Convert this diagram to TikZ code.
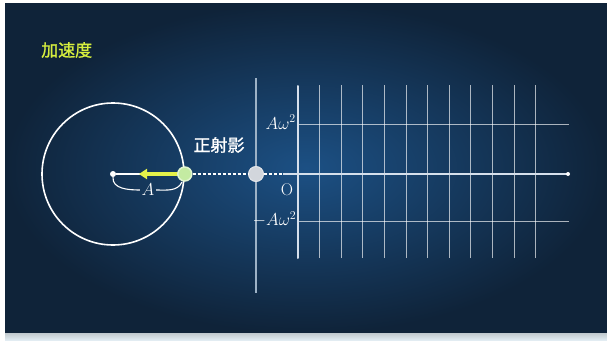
\documentclass[tikz,border=0pt]{standalone}
\usepackage{fontspec}
\newfontfamily\cjk{Noto Sans CJK JP}[FakeBold=1.2]
\usepackage{tikz}
\usetikzlibrary{
	arrows.meta,
	positioning,
	calc
}
\definecolor{panelmid}{HTML}{1C5084}
\definecolor{paneledge}{HTML}{0F2339}
\definecolor{accyellow}{HTML}{E4F24A}
\definecolor{titleyellow}{HTML}{D6EE3E}
\definecolor{projgreen}{HTML}{C4EBA2}
\definecolor{shadowgray}{HTML}{D2D6DC}
\definecolor{axiswhite}{HTML}{D6E0EC}
\definecolor{screenblue}{HTML}{9DB2C6}
\definecolor{stripcol}{HTML}{E2ECF2}

\begin{document}
\begin{tikzpicture}[x=1pt, y=-1pt,
				title text/.style={
					text=titleyellow, inner sep=0pt,
					font=\fontsize{17}{17}\selectfont\cjk
				},
				label text/.style={
					text=white, inner sep=0pt,
					font=\fontsize{17}{17}\selectfont\cjk
				},
				math text/.style={
					text=white, inner sep=1.5pt,
					font=\fontsize{17}{17}\selectfont
				},
				ring/.style={
					circle, draw=white, line width=1.6pt, inner sep=0pt
				},
				center dot/.style={
					circle, fill=white, minimum size=6pt, inner sep=0pt
				},
				proj point/.style={
					circle, fill=projgreen, draw=projgreen!50!white,
					line width=1.5pt, minimum size=14pt, inner sep=0pt
				},
				shadow point/.style={
					circle, fill=shadowgray, draw=shadowgray!60!white,
					line width=1pt, minimum size=15pt, inner sep=0pt
				},
				radius line/.style={white, line width=1.2pt},
				acc arrow/.style={
					accyellow, line width=3.5pt,
					-{Triangle[length=8pt, width=10pt]}
				},
				brace line/.style={white, line width=1.1pt},
				dash line/.style={white, line width=1.4pt, dash pattern=on 3pt off 2pt},
				screen/.style={screenblue, line width=1.6pt},
				grid line/.style={white, opacity=0.65, line width=0.8pt},
				x axis/.style={axiswhite, line width=2.6pt},
				y axis/.style={axiswhite, line width=2pt, line cap=round},
				]
				\useasboundingbox (0,0) rectangle (607,340);
				
				%background
				\fill[white] (0,0) rectangle (607,340);
				\shade[inner color=panelmid, outer color=paneledge] (5,3) rectangle (607,333);
				\shade[top color=stripcol!85!black, bottom color=stripcol] (5,333) rectangle (607,340);
				
				%title
				\node[title text, anchor=west] (title) at (41,50) {加速度};
				
				%circle
				\coordinate (cen) at (113,174);
				\node[ring, minimum size=142pt] (wheel) at (cen) {};
				\node[center dot] (cdot) at (cen) {};
				\coordinate (projc) at (wheel.east);
				\draw[radius line] (cdot) -- (projc);
				\coordinate (tip) at (139,174);
				\draw[acc arrow] (projc) -- (tip);
				\node[proj point] (proj) at (projc) {};
				
				%radius label
				\node[math text] (alabel) at (148,190) {$A$};
				\coordinate (arcend) at (182,182);
				\draw[brace line] (cdot.south) to[out=-95, in=180] (alabel.west);
				\draw[brace line] (alabel.east) to[out=0, in=-115] (arcend);
				
				%projection
				\coordinate (scrtop) at (256,78);
				\coordinate (scrbot) at (256,293);
				\draw[screen] (scrtop) -- (scrbot);
				\node[shadow point] (shadow) at (256,174) {};
				\draw[dash line] (proj) -- (shadow);
				\node[label text] (seishaei) at (219,145) {正射影};
				
				%graph
				\coordinate (ytop) at (298,86);
				\coordinate (ybot) at (298,258);
				\coordinate (xstart) at (283,174);
				\coordinate (xend) at (568,174);
				\foreach \k in {1,...,11}
				\draw[grid line] ($(ybot)+(21.6*\k,0)$) -- ($(ytop)+(21.6*\k,-1)$);
				\coordinate (hil) at (298,124.5);
				\coordinate (hir) at (569,124.5);
				\coordinate (lol) at (298,221.5);
				\coordinate (lor) at (569,221.5);
				\draw[grid line] (hil) -- (hir);
				\draw[grid line] (lol) -- (lor);
				\draw[dash line] (shadow) -- (xstart);
				\draw[x axis] (xstart) -- (xend);
				\fill[white] (xend) circle (2);
				\draw[y axis] (ybot) -- (ytop);
				
				%axis labels
				\node[math text, anchor=east] (amax) at (297.5,122) {$A\omega^2$};
				\node[math text] (olabel) at (287,190) {O};
				\node[math text, anchor=east] (amin) at (298,219) {$-A\omega^2$};
			\end{tikzpicture}
\end{document}
